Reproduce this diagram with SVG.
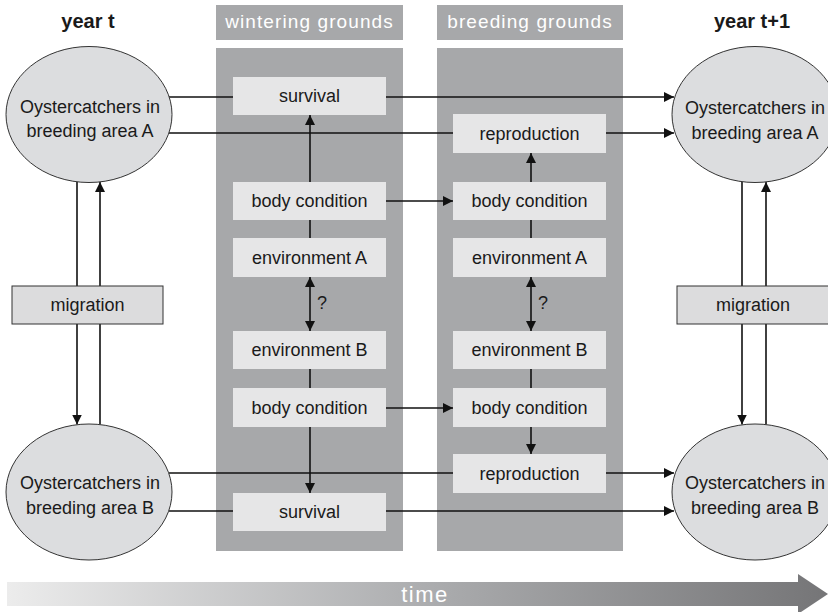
<svg xmlns="http://www.w3.org/2000/svg" width="828" height="612" viewBox="0 0 828 612">
<style>
text{font-family:"Liberation Sans",Arial,sans-serif;fill:#1a1a1a;text-anchor:middle}
.t{font-size:18px}
.h{font-size:20px;font-weight:bold}
.hw{font-size:19px;fill:#ffffff;letter-spacing:1.1px}
.panel{fill:#a7a8aa}
.box{fill:#e6e6e7}
.ell{fill:#dcdddf;stroke:#333;stroke-width:1}
.mig{fill:#dcdcdd;stroke:#333;stroke-width:1}
.c{stroke:#111;stroke-width:1.6;fill:none}
.a{stroke:#111;stroke-width:1.6;fill:none;marker-end:url(#ah)}
</style>
<defs>
<marker id="ah" viewBox="0 0 10 10" refX="10" refY="5" markerWidth="10" markerHeight="10" markerUnits="userSpaceOnUse" orient="auto-start-reverse"><path d="M0,0 L10,5 L0,10 z" fill="#111"/></marker>
<linearGradient id="tg" x1="0" y1="0" x2="1" y2="0">
<stop offset="0" stop-color="#ececec"/>
<stop offset="0.5" stop-color="#adaeb0"/>
<stop offset="1" stop-color="#757577"/>
</linearGradient>
</defs>

<g id="headers">
<text class="h" x="88" y="28">year t</text>
<text class="h" x="752" y="28">year t+1</text>
</g>

<g id="wintering">
<rect class="panel" x="216" y="5" width="187" height="35"/>
<text class="hw" x="309.5" y="28">wintering grounds</text>
<rect class="panel" x="216" y="48" width="187" height="503"/>
</g>
<g id="breeding">
<rect class="panel" x="437" y="5" width="186" height="35"/>
<text class="hw" x="530" y="28">breeding grounds</text>
<rect class="panel" x="437" y="48" width="186" height="503"/>
</g>

<g id="connectors">
<line class="c" x1="169" y1="97" x2="233" y2="97"/>
<line class="a" x1="386" y1="97" x2="674" y2="97"/>
<line class="c" x1="169" y1="133" x2="453" y2="133"/>
<line class="a" x1="606" y1="133" x2="674" y2="133"/>
<line class="c" x1="169" y1="473" x2="453" y2="473"/>
<line class="a" x1="606" y1="473" x2="674" y2="473"/>
<line class="c" x1="169" y1="511" x2="233" y2="511"/>
<line class="a" x1="386" y1="511" x2="674" y2="511"/>
<line class="a" x1="310" y1="182" x2="310" y2="115"/>
<line class="c" x1="310" y1="220" x2="310" y2="238"/>
<line class="c" x1="310" y1="277" x2="310" y2="331" marker-start="url(#ah)" marker-end="url(#ah)"/>
<line class="c" x1="310" y1="369" x2="310" y2="388"/>
<line class="a" x1="310" y1="427" x2="310" y2="493"/>
<line class="a" x1="531" y1="182" x2="531" y2="153"/>
<line class="c" x1="531" y1="220" x2="531" y2="238"/>
<line class="c" x1="531" y1="277" x2="531" y2="331" marker-start="url(#ah)" marker-end="url(#ah)"/>
<line class="c" x1="531" y1="369" x2="531" y2="388"/>
<line class="a" x1="531" y1="427" x2="531" y2="454"/>
<line class="a" x1="386" y1="201" x2="453" y2="201"/>
<line class="a" x1="386" y1="408" x2="453" y2="408"/>
<line class="a" x1="77" y1="182" x2="77" y2="424.5"/>
<line class="a" x1="100" y1="424.5" x2="100" y2="182"/>
<line class="a" x1="742" y1="182" x2="742" y2="424.5"/>
<line class="a" x1="766" y1="424.5" x2="766" y2="182"/>
<text class="t" x="322" y="309">?</text>
<text class="t" x="543" y="309">?</text>
</g>

<g id="w-survival-top"><rect class="box" x="233" y="77" width="153" height="38"/><text class="t" x="309.5" y="102">survival</text></g>
<g id="w-body-top"><rect class="box" x="233" y="182" width="153" height="38"/><text class="t" x="309.5" y="207">body condition</text></g>
<g id="w-env-a"><rect class="box" x="233" y="238" width="153" height="39"/><text class="t" x="309.5" y="264">environment A</text></g>
<g id="w-env-b"><rect class="box" x="233" y="331" width="153" height="38"/><text class="t" x="309.5" y="356">environment B</text></g>
<g id="w-body-bot"><rect class="box" x="233" y="388" width="153" height="39"/><text class="t" x="309.5" y="414">body condition</text></g>
<g id="w-survival-bot"><rect class="box" x="233" y="493" width="153" height="38"/><text class="t" x="309.5" y="518">survival</text></g>

<g id="b-repro-top"><rect class="box" x="453" y="114" width="153" height="39"/><text class="t" x="529.5" y="140">reproduction</text></g>
<g id="b-body-top"><rect class="box" x="453" y="182" width="153" height="38"/><text class="t" x="529.5" y="207">body condition</text></g>
<g id="b-env-a"><rect class="box" x="453" y="238" width="153" height="39"/><text class="t" x="529.5" y="264">environment A</text></g>
<g id="b-env-b"><rect class="box" x="453" y="331" width="153" height="38"/><text class="t" x="529.5" y="356">environment B</text></g>
<g id="b-body-bot"><rect class="box" x="453" y="388" width="153" height="39"/><text class="t" x="529.5" y="414">body condition</text></g>
<g id="b-repro-bot"><rect class="box" x="453" y="454" width="153" height="39"/><text class="t" x="529.5" y="480">reproduction</text></g>

<g id="left-a"><ellipse class="ell" cx="89" cy="114.5" rx="83" ry="68"/><text class="t" x="90" y="113">Oystercatchers in</text><text class="t" x="90" y="137">breeding area A</text></g>
<g id="left-b"><ellipse class="ell" cx="89" cy="492" rx="83" ry="68"/><text class="t" x="90" y="489">Oystercatchers in</text><text class="t" x="90" y="514">breeding area B</text></g>
<g id="right-a"><ellipse class="ell" cx="755" cy="114.5" rx="83" ry="68"/><text class="t" x="755" y="114">Oystercatchers in</text><text class="t" x="755" y="139">breeding area A</text></g>
<g id="right-b"><ellipse class="ell" cx="755" cy="492" rx="83" ry="68"/><text class="t" x="755" y="489">Oystercatchers in</text><text class="t" x="755" y="514">breeding area B</text></g>

<g id="migration-left"><rect class="mig" x="12" y="286" width="151" height="38"/><text class="t" x="87.5" y="311">migration</text></g>
<g id="migration-right"><rect class="mig" x="677" y="286" width="152" height="38"/><text class="t" x="753" y="311">migration</text></g>

<g id="time">
<polygon points="7,582 798,582 798,574 828,594 798,614 798,606 7,606" fill="url(#tg)"/>
<text x="425" y="602" style="font-size:22px;fill:#ffffff;letter-spacing:1.5px">time</text>
</g>
</svg>
